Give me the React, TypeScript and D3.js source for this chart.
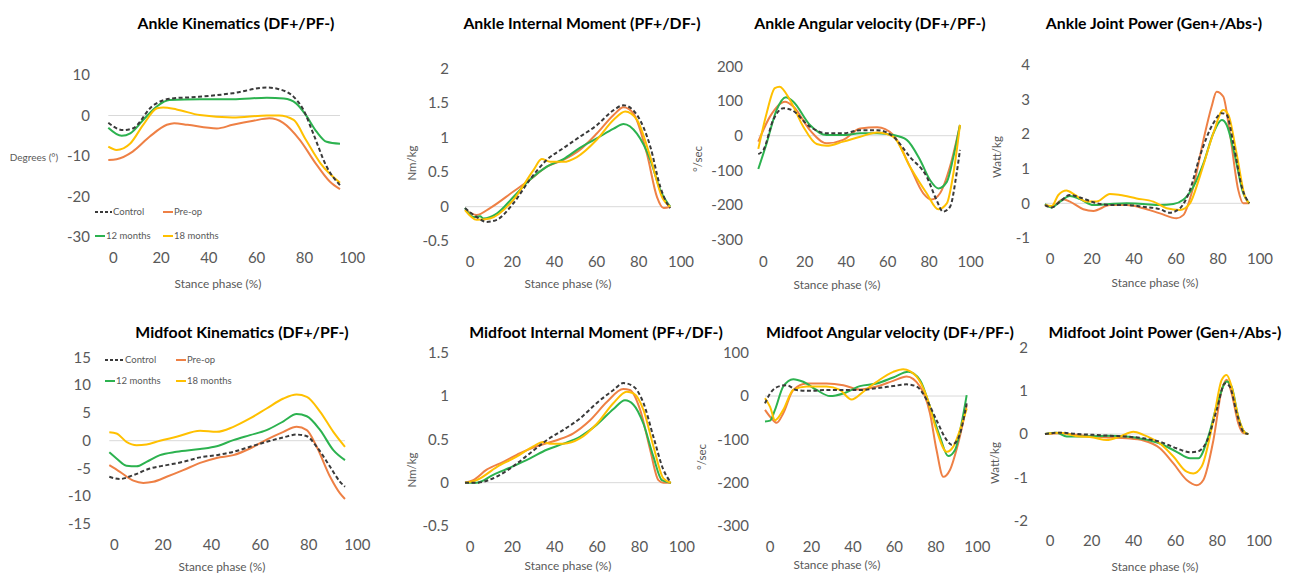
import * as d3 from "d3";

type Pt = [number, number];

// stance phase (%) -> value

// Ankle kinematics (deg)
const akControl: Pt[] = [[0,-1.8],[6,-3.6],[10,-3.2],[18,2.3],[26,4.2],[37,4.6],[51,5.5],[65,6.9],[70,6.5],[76,4.6],[80,1.4],[84,-4.4],[89.5,-12.6],[95,-17.2]];
const akPreop: Pt[] = [[0,-11],[3.4,-10.8],[10,-8.9],[17,-5.2],[24,-2.3],[27,-1.9],[32.5,-2.3],[44.5,-3.2],[51,-2.3],[59.5,-1.3],[66,-0.7],[71.7,-1.8],[78.5,-6],[85,-11.8],[90.8,-16.3],[95,-18.2]];
const ak12: Pt[] = [[0,-3],[5.5,-5],[9,-4.4],[14.3,-1.1],[20,2.3],[25,3.8],[37.5,4],[51,4],[65,4.4],[72,4.2],[77,3],[81,0.1],[85.4,-4],[89.5,-6.5],[95,-7]];
const ak18: Pt[] = [[0,-7.7],[3.4,-8.5],[9,-6.9],[14.3,-2.3],[20,1.8],[22.5,2],[28,1.5],[37.5,0.1],[51,-0.5],[65,0],[70,0],[76,-1.1],[81,-6],[87,-11.8],[95,-16.6]];

// Ankle internal moment (Nm/kg)
const amControl: Pt[] = [[0,-0.02],[5.4,-0.15],[10,-0.22],[14.7,-0.19],[22.4,0.05],[30,0.39],[37.9,0.68],[45.6,0.85],[53,1.01],[61,1.18],[68.8,1.4],[73.4,1.47],[79.6,1.33],[85.8,0.87],[90.4,0.29],[93.5,0.05],[95,-0.02]];
const amPreop: Pt[] = [[0,-0.04],[5.4,-0.12],[11.6,-0.02],[22.4,0.22],[30,0.39],[37.9,0.58],[45.6,0.68],[53,0.82],[61,1.06],[68.8,1.33],[73.4,1.44],[78,1.35],[84.2,0.77],[88.9,0.14],[92,-0.02],[95,0]];
const am12: Pt[] = [[0,-0.02],[3.9,-0.15],[7,-0.14],[8.5,-0.17],[14.7,-0.1],[22.4,0.14],[30,0.39],[37.9,0.58],[45.6,0.69],[53,0.85],[61,0.99],[68.8,1.13],[73.4,1.2],[79.6,1.06],[85.8,0.68],[90.4,0.24],[95,0]];
const am18: Pt[] = [[0,-0.05],[5.4,-0.19],[11.6,-0.17],[22.4,0.1],[31.7,0.53],[35.5,0.69],[39.4,0.65],[45.6,0.65],[51.8,0.72],[61,0.97],[68.8,1.26],[74.2,1.38],[79.6,1.26],[85.8,0.72],[91.2,0.14],[95,0]];

// Ankle angular velocity (deg/sec)
const avControl: Pt[] = [[0,-53],[2.4,-41],[7,45],[11.8,79],[15.7,74],[24.3,26],[32.2,7],[40,7],[48,16],[56,16],[63.6,-3],[71.4,-61],[79.3,-118],[84,-186],[87,-219],[90.3,-205],[93.4,-109],[95,-41]];
const avPreop: Pt[] = [[0,-17],[5.5,55],[12.6,98],[16.5,84],[24.3,16],[32.2,-22],[40,-12],[48,21],[56,24],[63.6,2],[71.4,-89],[77.7,-166],[81.6,-184],[85.6,-166],[90.3,-89],[95,31]];
const av12: Pt[] = [[0,-96],[3.9,-22],[8.6,74],[13,111],[16.5,98],[24.3,31],[32.2,2],[40,2],[48,7],[56,7],[63.6,2],[69.9,-12],[76.2,-70],[80.9,-128],[84.8,-152],[88.8,-133],[91.9,-61],[95,31]];
const av18: Pt[] = [[0,-38],[3.9,64],[7.8,137],[10,141],[14.9,103],[21.2,26],[27.5,-24],[32.2,-29],[40,-17],[48,-3],[56,9],[63.6,-3],[71.4,-89],[79.3,-166],[84.8,-212],[88.8,-195],[91.9,-109],[95,31]];

// Ankle joint power (W/kg)
const apControl: Pt[] = [[0,-0.05],[3.1,-0.12],[7,0.05],[11.6,0.24],[16.3,0.17],[22.5,0.03],[30.2,-0.05],[38,-0.05],[45.7,-0.1],[53.5,-0.17],[58,-0.27],[62.8,-0.14],[67.4,0.38],[72,1.35],[78.3,2.31],[82.2,2.6],[84.5,2.55],[87.6,1.73],[91.5,0.48],[95,0]];
const apPreop: Pt[] = [[0,-0.05],[3.1,-0.1],[8.5,0.12],[11.6,0.05],[17.8,-0.17],[22.5,-0.22],[30.2,-0.05],[38,-0.05],[45.7,-0.14],[53.5,-0.29],[61.2,-0.43],[64.3,-0.34],[69,0.48],[73.7,1.83],[77.5,2.79],[79.8,3.22],[82.9,3.08],[86,2.02],[89.9,0.38],[92.2,0],[95,0]];
const ap12: Pt[] = [[0,-0.02],[3.1,-0.12],[7,0.05],[11.6,0.21],[16.3,0.12],[22.5,-0.05],[30.2,-0.02],[38,0],[45.7,-0.02],[53.5,-0.05],[59.7,-0.02],[64.3,0.1],[69,0.48],[73.7,1.15],[78.3,2.02],[82.2,2.4],[84.5,2.26],[88.4,1.35],[92.2,0.29],[95,0]];
const ap18: Pt[] = [[0,-0.05],[3.1,-0.08],[6.2,0.24],[10,0.37],[13.9,0.24],[19.4,0.05],[24,0.05],[30.2,0.27],[34.9,0.24],[42.6,0.14],[50.4,0.05],[56.6,-0.14],[62.8,-0.19],[67.4,0],[72,0.77],[78.3,2.02],[82.9,2.69],[85.3,2.55],[89.1,1.44],[93,0.19],[95,0]];

// Midfoot kinematics (deg)
const mkControl: Pt[] = [[0,-6.5],[4.3,-6.9],[9.7,-6.2],[16.4,-5],[23.1,-4.4],[29.8,-3.8],[36.6,-3],[43.3,-2.6],[50,-2],[56.7,-1.1],[63.4,-0.2],[70.2,0.6],[75.5,1.1],[79.6,0.8],[83.6,-1.1],[89,-4.7],[93,-7.4],[95,-8.3]];
const mkPreop: Pt[] = [[0,-4.4],[4.3,-5.6],[9.7,-7.2],[13.7,-7.6],[17.7,-7.4],[23.1,-6.5],[29.8,-5.3],[36.6,-4],[43.3,-3.1],[50,-2.6],[56.7,-1.4],[63.4,0.2],[70.2,1.6],[75.5,2.5],[79.6,1.9],[83.6,-1.1],[89,-6.5],[93,-9.5],[95,-10.5]];
const mk12: Pt[] = [[0,-2.1],[2.9,-3.2],[6.9,-4.5],[11,-4.6],[15,-3.8],[20.4,-2.6],[27.1,-2],[36.6,-1.5],[43.3,-1],[50,0.1],[56.7,1],[63.4,1.9],[70.2,3.5],[75.5,4.8],[79.6,4.4],[85,1.9],[90.3,-1.7],[95,-3.5]];
const mk18: Pt[] = [[0,1.5],[2.9,1.3],[6.9,-0.2],[11,-0.8],[15,-0.7],[20.4,0],[27.1,0.7],[36.6,1.8],[43.3,1.6],[50,2.5],[56.7,4],[63.4,5.8],[70.2,7.6],[75.5,8.3],[79.6,7.9],[85,5.2],[90.3,1.6],[95,-1.1]];

// Midfoot internal moment (Nm/kg)
const mmControl: Pt[] = [[0,0],[5.4,0],[14.6,0.07],[22.3,0.19],[30,0.34],[37.7,0.49],[45.4,0.61],[53,0.74],[60.8,0.92],[68.5,1.07],[73,1.15],[77.7,1.11],[82.3,0.92],[86.9,0.53],[91.5,0.15],[95,0]];
const mmPreop: Pt[] = [[0,0],[3.8,0.03],[10,0.15],[17.7,0.24],[25.4,0.34],[33,0.42],[42.3,0.49],[50,0.57],[57.7,0.72],[65.4,0.93],[73,1.08],[76,1.07],[80.8,0.84],[85.4,0.38],[89.2,0.03],[91.5,0],[95,0]];
const mm12: Pt[] = [[0,0],[5.4,0],[13,0.09],[22.3,0.19],[30,0.28],[37.7,0.38],[45.4,0.45],[53,0.53],[60.8,0.67],[68.5,0.85],[73.8,0.95],[77.7,0.9],[82.3,0.68],[86.9,0.3],[90.8,0.03],[95,0]];
const mm18: Pt[] = [[0,0],[5.4,0.03],[14.6,0.18],[23.8,0.3],[31.5,0.42],[36,0.47],[39.2,0.45],[45.4,0.45],[53,0.51],[60.8,0.68],[68.5,0.92],[74.6,1.05],[77.7,1.03],[82.3,0.84],[86.9,0.42],[91.5,0.05],[95,0]];

// Midfoot angular velocity (deg/sec)
const mvControl: Pt[] = [[0,-17],[2.4,6],[7,23],[10.2,25],[14.9,14],[21.2,12],[29,14],[36.9,14],[44.7,14],[52.6,18],[60.4,23],[66.7,27],[71.4,22],[76.2,-9],[80.8,-56],[85.6,-102],[87.9,-113],[91,-98],[95,-17]];
const mvPreop: Pt[] = [[0,-32],[3.1,-52],[5.5,-62],[8.6,-40],[13.3,14],[19.6,29],[29,29],[36.9,25],[44.7,15],[52.6,22],[60.4,35],[66.7,45],[73,22],[77.7,-40],[80.8,-125],[84,-187],[87.1,-171],[91,-109],[95,-21]];
const mv12: Pt[] = [[0,-59],[2.4,-57],[4.7,-32],[8.6,22],[13.3,39],[18,33],[24.3,14],[30.6,0],[36.9,6],[44.7,23],[52.6,29],[60.4,43],[67.5,56],[73,37],[77.7,-25],[82.4,-94],[86.3,-139],[89.5,-125],[92.6,-63],[95,2]];
const mv18: Pt[] = [[0,-5],[2.4,-25],[4.7,-56],[8.6,-32],[13.3,14],[19.6,22],[29,22],[35.3,14],[40.8,-8],[46.3,10],[52.6,33],[60.4,56],[65.1,62],[71.4,45],[76.2,-2],[80.8,-79],[85.6,-129],[88.7,-117],[91.8,-79],[95,-29]];

// Midfoot joint power (W/kg)
const mpControl: Pt[] = [[0,0],[7,0.03],[14.8,0],[22.6,-0.02],[30.4,-0.04],[38.2,-0.06],[46,-0.1],[53.7,-0.18],[61.5,-0.33],[67.8,-0.42],[70.9,-0.41],[75.5,-0.18],[80.2,0.55],[84.1,1.17],[86.4,1.09],[89.6,0.48],[92.7,0.05],[95,0]];
const mpPreop: Pt[] = [[0,0],[7,0.02],[14.8,-0.02],[22.6,-0.06],[30.4,-0.08],[38.2,-0.1],[46,-0.15],[53.7,-0.33],[60,-0.68],[66.2,-1.06],[70.9,-1.18],[74,-1.06],[78.7,-0.14],[82.6,1.02],[84.9,1.25],[87.2,0.94],[90.3,0.25],[92.7,0.02],[95,0]];
const mp12: Pt[] = [[0,0],[5.5,0.03],[10.1,-0.06],[22.6,-0.05],[30.4,-0.04],[38.2,-0.06],[46,-0.12],[53.7,-0.22],[61.5,-0.41],[67.8,-0.56],[71.7,-0.56],[76.3,-0.06],[81,0.78],[84.9,1.21],[87.2,1.09],[90.3,0.4],[93.5,0.03],[95,0]];
const mp18: Pt[] = [[0,0],[7,0.03],[14.8,-0.05],[22.6,-0.08],[28.8,-0.14],[35,-0.06],[41.3,0.05],[46,-0.02],[53.7,-0.22],[60,-0.52],[66.2,-0.87],[69.3,-0.91],[73.2,-0.75],[78.7,0.32],[82.6,1.25],[84.9,1.36],[87.2,1.09],[90.3,0.4],[93.5,0.03],[95,0]];

const stanceTicks = [0, 20, 40, 60, 80, 100];
const akTicks = [-30, -20, -10, 0, 10];
const amTicks = [-0.5, 0, 0.5, 1, 1.5, 2];
const avTicks = [-300, -200, -100, 0, 100, 200];
const apTicks = [-1, 0, 1, 2, 3, 4];
const mkTicks = [-15, -10, -5, 0, 5, 10, 15];
const mmTicks = [-0.5, 0, 0.5, 1, 1.5];
const mvTicks = [-300, -200, -100, 0, 100];
const mpTicks = [-2, -1, 0, 1, 2];

const seriesNames = ["Control", "Pre-op", "12 months", "18 months"];
const seriesColors = ["#3a3a3a", "#ee8045", "#2cb24f", "#ffc000"];

const FONT = "Lato, 'Open Sans', sans-serif";
const GREY = "#595959";

const panels = [
  { title: "Ankle Kinematics (DF+/PF-)", yTitle: "Degrees (°)", flatY: true, ticks: akTicks, data: [akControl, akPreop, ak12, ak18],
    x: [108.3, 352.2], y: [237, 75], tickX: 90, tickY: 258, tx: 236, ty: 23.5, ax: 218, ay: 284, yx: 34, yy: 157,
    legend: { cols: [95, 163], rows: [212, 236], dash: 17 } },
  { title: "Ankle Internal Moment (PF+/DF-)", yTitle: "Nm/kg", ticks: amTicks, data: [amControl, amPreop, am12, am18],
    x: [465, 681], y: [241.2, 68.7], tickX: 449, tickY: 261.5, tx: 582, ty: 23.5, ax: 568, ay: 284, yx: 412, yy: 163 },
  { title: "Ankle Angular velocity (DF+/PF-)", yTitle: "°/sec", ticks: avTicks, data: [avControl, avPreop, av12, av18],
    x: [758.3, 970.6], y: [239.8, 66.3], tickX: 743, tickY: 261.5, tx: 870, ty: 23.5, ax: 837, ay: 285, yx: 698, yy: 159 },
  { title: "Ankle Joint Power (Gen+/Abs-)", yTitle: "Watt/kg", ticks: apTicks, data: [apControl, apPreop, ap12, ap18],
    x: [1045, 1260], y: [238, 64.6], tickX: 1030, tickY: 258.3, tx: 1154, ty: 23, ax: 1155, ay: 283, yx: 997, yy: 157 },
  { title: "Midfoot Kinematics (DF+/PF-)", yTitle: "", ticks: mkTicks, data: [mkControl, mkPreop, mk12, mk18],
    x: [109.3, 357.4], y: [524, 357.4], tickX: 91, tickY: 545, tx: 242, ty: 332.5, ax: 222, ay: 566.5, yx: 0, yy: 0,
    legend: { cols: [105, 176], rows: [360, 381], dash: 19 } },
  { title: "Midfoot Internal Moment (PF+/DF-)", yTitle: "Nm/kg", ticks: mmTicks, data: [mmControl, mmPreop, mm12, mm18],
    x: [465, 681.8], y: [526, 352.7], tickX: 449, tickY: 546.5, tx: 596, ty: 332.5, ax: 568, ay: 566, yx: 412, yy: 470 },
  { title: "Midfoot Angular velocity (DF+/PF-)", yTitle: "°/sec", ticks: mvTicks, data: [mvControl, mvPreop, mv12, mv18],
    x: [765, 977.3], y: [525.7, 352.8], tickX: 749, tickY: 546.5, tx: 890, ty: 332.5, ax: 837, ay: 565, yx: 702, yy: 457 },
  { title: "Midfoot Joint Power (Gen+/Abs-)", yTitle: "Watt/kg", ticks: mpTicks, data: [mpControl, mpPreop, mp12, mp18],
    x: [1045, 1259], y: [520.7, 347.3], tickX: 1028, tickY: 540.5, tx: 1165, ty: 332.5, ax: 1155, ay: 566.5, yx: 995, yy: 463 },
];

// draw order: coloured series first, dashed control on top
const drawOrder = [1, 2, 3, 0];

function Legend({ cols, rows, dash }: { cols: number[]; rows: number[]; dash: number }) {
  return (
    <g fontFamily={FONT} fontSize={9.5} fill={GREY}>
      {seriesNames.map((name, i) => {
        const cx = cols[i % 2];
        const cy = rows[Math.floor(i / 2)];
        const len = i === 0 ? dash : 10;
        return (
          <g key={name}>
            <line x1={cx} x2={cx + len} y1={cy} y2={cy} stroke={seriesColors[i]} strokeWidth={2}
              strokeDasharray={i === 0 ? "3 2" : undefined} />
            <text x={cx + len + 1} y={cy} dy="0.35em">{name}</text>
          </g>
        );
      })}
    </g>
  );
}

function Panel({ p }: { p: (typeof panels)[number] }) {
  const ticks = p.ticks;
  const x = d3.scaleLinear().domain([0, 100]).range(p.x);
  const labelX = d3.scaleLinear().domain([0, 100]).range([p.x[0] + 5, p.x[1]]);
  const y = d3.scaleLinear().domain([ticks[0], ticks[ticks.length - 1]]).range(p.y);
  const line = d3.line<Pt>().x((d) => x(d[0])).y((d) => y(d[1])).curve(d3.curveMonotoneX);

  return (
    <g>
      <text x={p.tx} y={p.ty} dy="0.35em" textAnchor="middle" fontFamily={FONT} fontWeight={700} fontSize={15.8} fill="#000">
        {p.title}
      </text>
      <line x1={x(0)} x2={x(95)} y1={y(0)} y2={y(0)} stroke="#d9d9d9" strokeWidth={1} />
      <g fontFamily={FONT} fontSize={15} fill={GREY}>
        {ticks.map((t) => (
          <text key={t} x={p.tickX} y={y(t)} dy="0.35em" textAnchor="end">{t}</text>
        ))}
        {stanceTicks.map((t) => (
          <text key={t} x={labelX(t)} y={p.tickY} dy="0.35em" textAnchor="middle">{t}</text>
        ))}
      </g>
      <text x={p.ax} y={p.ay} dy="0.35em" textAnchor="middle" fontFamily={FONT} fontSize={11.8} fill={GREY}>
        Stance phase (%)
      </text>
      {p.yTitle && (p.flatY ? (
        <text x={p.yx} y={p.yy} dy="0.35em" textAnchor="middle" fontFamily={FONT} fontSize={10} fill={GREY}>{p.yTitle}</text>
      ) : (
        <text transform={`translate(${p.yx},${p.yy}) rotate(-90)`} dy="0.35em" textAnchor="middle" fontFamily={FONT} fontSize={11.5} fill={GREY}>{p.yTitle}</text>
      ))}
      {drawOrder.map((i) => (
        <path key={i} d={line(p.data[i]) ?? ""} fill="none" stroke={seriesColors[i]} strokeWidth={2}
          strokeDasharray={i === 0 ? "4 2.5" : undefined} />
      ))}
      {p.legend && <Legend {...p.legend} />}
    </g>
  );
}

export default function App() {
  return (
    <svg width={1298} height={574} style={{ position: "absolute", left: 0, top: 0, background: "#fff" }}>
      <rect width={1298} height={574} fill="#fff" />
      {panels.map((p) => (
        <Panel key={p.title} p={p} />
      ))}
    </svg>
  );
}
